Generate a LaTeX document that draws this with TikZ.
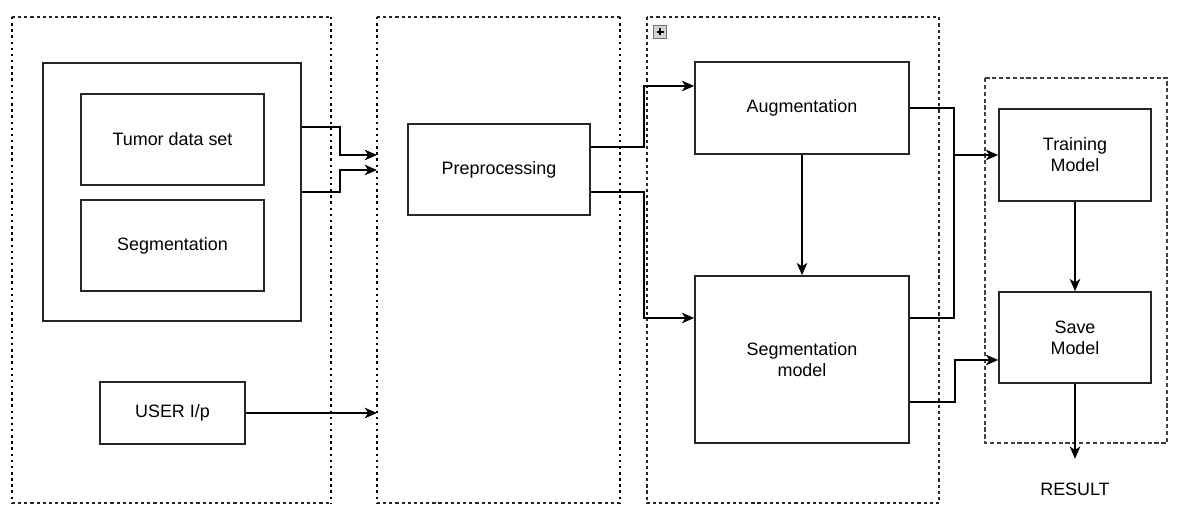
\documentclass[tikz,border=0pt]{standalone}
\usepackage{fontspec}
\setmainfont{Liberation Sans}
\usetikzlibrary{arrows.meta}
\begin{document}
\begin{tikzpicture}[x=0.02cm,y=-0.02cm,->,>={Stealth[length=7pt,width=6pt,inset=2pt]},
  line width=1pt,
  every node/.style={font=\fontsize{10.2}{12}\selectfont,align=center,inner sep=0pt},
  box/.style={draw,rectangle,line width=0.9pt,draw=black!85},
  dotline/.style={-,line width=1.5pt,dash pattern=on 1.4pt off 2.1pt},
  dashline/.style={-,line width=0.8pt,dash pattern=on 1.8pt off 1.7pt,draw=black!85},
  longdash/.style={-,line width=0.85pt,dash pattern=on 2.4pt off 1.5pt,draw=black!75}]
  \useasboundingbox (0,0) rectangle (1177,509);
  % groups
  \draw[dashline] (12,17) -- (331,17) (12,503) -- (331,503);
  \draw[dotline] (12,17) -- (12,503) (331,17) -- (331,503);
  \draw[dashline] (377,17) -- (620,17) (377,503) -- (620,503);
  \draw[dotline] (377,17) -- (377,503) (620,17) -- (620,503);
  \draw[dashline] (647,17) rectangle (939,503);
  \draw[longdash] (985,78) rectangle (1167,443);
  \coordinate (g2w) at (377,0);
  \coordinate (mx) at (954,0);
  \node[draw=black!55,fill=gray!35,line width=0.5pt,minimum size=0.26cm] (plus) at (660,32) {};
  \draw[-,line width=0.8pt] (plus.center) +(-3.5,0) -- +(3.5,0) +(0,-3.5) -- +(0,3.5);
  % nodes
  \node[box,minimum width=5.16cm,minimum height=5.16cm] (outer) at (172,192) {};
  \node[box,minimum width=3.66cm,minimum height=1.82cm] (tumor) at (172.5,139.5) {Tumor data set};
  \node[box,minimum width=3.66cm,minimum height=1.82cm] (seg) at (172.5,245.5) {Segmentation};
  \node[box,minimum width=2.9cm,minimum height=1.24cm] (user) at (172.5,413) {USER I/p};
  \node[box,minimum width=3.64cm,minimum height=1.82cm] (prep) at (499,169.5) {Preprocessing};
  \node[box,minimum width=4.28cm,minimum height=1.84cm] (aug) at (802,108) {Augmentation};
  \node[box,minimum width=4.28cm,minimum height=3.34cm] (segmodel) at (802,359.5) {Segmentation\\model};
  \node[box,minimum width=3.04cm,minimum height=1.84cm] (train) at (1075,155) {Training\\Model};
  \node[box,minimum width=3.04cm,minimum height=1.82cm] (save) at (1075,337.5) {Save\\Model};
  \node (result) at (1075,489) {RESULT};
  % connectors
  \coordinate (in1) at (377,155);
  \coordinate (in2) at (377,170);
  \draw ([yshift=1.3cm]outer.east) -- ++(38,0) |- (in1);
  \draw (outer.east) -- ++(38,0) |- (in2);
  \draw (user.east) -- (user.east -| g2w);
  \draw ([yshift=0.45cm]prep.east) -- ++(53,0) |- ([yshift=0.44cm]aug.west);
  \draw ([yshift=-0.45cm]prep.east) -- ++(53,0) |- ([yshift=0.83cm]segmodel.west);
  \draw (aug) -- (segmodel);
  \coordinate (sm1) at ([yshift=0.83cm]segmodel.east);
  \draw[-] (aug.east) -| (sm1 -| mx) -- (sm1);
  \draw (train.west -| mx) -- (train.west);
  \draw ([yshift=-0.85cm]segmodel.east) -- ++(45,0) |- ([yshift=-0.45cm]save.west);
  \draw (train) -- (save);
  \draw (save.south) -- ++(0,75);
\end{tikzpicture}
\end{document}
